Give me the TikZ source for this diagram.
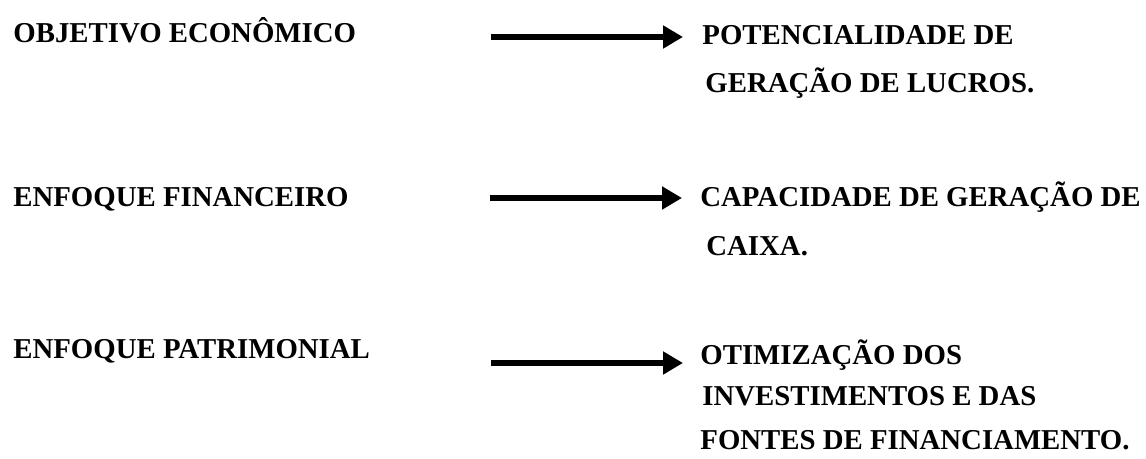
\documentclass[tikz,border=0pt]{standalone}
\usepackage{fontspec}
\setmainfont{Liberation Serif}
\usetikzlibrary{arrows.meta}
\tikzset{
  lbl/.style={anchor=base west, inner sep=0pt, font=\fontsize{14.4}{17}\selectfont\bfseries},
  arr/.style={line width=2.6pt, -{Triangle[length=10pt 0,width=11pt 0]}}
}
\begin{document}
\begin{tikzpicture}[x=0.5pt,y=-0.5pt]
\useasboundingbox (0,0) rectangle (1146,459);
% left labels
\node[lbl] (l1) at (13,43) {OBJETIVO ECONÔMICO};
\node[lbl] (l2) at (13,207) {ENFOQUE FINANCEIRO};
\node[lbl] (l3) at (13,359) {ENFOQUE PATRIMONIAL};
% right texts
\node[lbl] (r1a) at (702,45) {POTENCIALIDADE DE};
\node[lbl] (r1b) at (705,93) {GERAÇÃO DE LUCROS.};
\node[lbl] (r2a) at (700,207) {CAPACIDADE DE GERAÇÃO DE};
\node[lbl] (r2b) at (706,256) {CAIXA.};
\node[lbl] (r3a) at (700,365) {OTIMIZAÇÃO DOS};
\node[lbl] (r3b) at (702,406) {INVESTIMENTOS E DAS};
\node[lbl] (r3c) at (700,450) {FONTES DE FINANCIAMENTO.};
% arrows
\coordinate (a1s) at (491,37);
\coordinate (a1e) at (683,37);
\coordinate (a2s) at (490,198);
\coordinate (a2e) at (682,198);
\coordinate (a3s) at (491,363);
\coordinate (a3e) at (683,363);
\draw[arr] (a1s) -- (a1e);
\draw[arr] (a2s) -- (a2e);
\draw[arr] (a3s) -- (a3e);
\end{tikzpicture}
\end{document}
